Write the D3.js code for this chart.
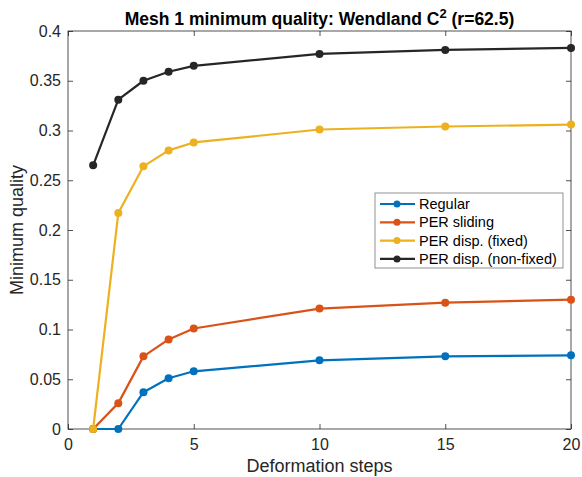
<!DOCTYPE html>
<html>
<head>
<meta charset="utf-8">
<script src="https://cdn.jsdelivr.net/npm/d3@7"></script>
<style>
  body { margin: 0; background: #fff; }
  text { font-family: "Liberation Sans", Arial, Helvetica, sans-serif; fill: #262626; }
</style>
</head>
<body>
<div id="chart"></div>
<script>
// data
var steps = [1, 2, 3, 4, 5, 10, 15, 20];
var regular = [0, 0, 0.037, 0.051, 0.058, 0.069, 0.073, 0.074];
var perSliding = [0, 0.026, 0.073, 0.090, 0.101, 0.121, 0.127, 0.130];
var perDispFixed = [0, 0.217, 0.264, 0.280, 0.288, 0.301, 0.304, 0.306];
var perDispNonFixed = [0.265, 0.331, 0.350, 0.359, 0.365, 0.377, 0.381, 0.383];
var seriesNames = ["Regular", "PER sliding", "PER disp. (fixed)", "PER disp. (non-fixed)"];
var xTicks = [0, 5, 10, 15, 20];
var yTicks = [0, 0.05, 0.1, 0.15, 0.2, 0.25, 0.3, 0.35, 0.4];

var colors = ["#0072BD", "#D95319", "#EDB120", "#262626"];
var allSeries = [regular, perSliding, perDispFixed, perDispNonFixed];

var W = 582, H = 477;
var margin = {top: 31, right: 11, bottom: 48, left: 68},
    width = W - margin.left - margin.right,
    height = H - margin.top - margin.bottom;

var svg = d3.select("#chart").append("svg")
  .attr("width", W).attr("height", H);

var g = svg.append("g")
  .attr("transform", "translate(" + margin.left + "," + margin.top + ")");

var x = d3.scaleLinear().domain([0, 20]).range([0, width]);
var y = d3.scaleLinear().domain([0, 0.4]).range([height, 0]);

var axisColor = "#262626";
var tickLen = 5;

// box
g.append("rect")
  .attr("width", width).attr("height", height)
  .attr("fill", "none").attr("stroke", axisColor).attr("stroke-width", 0.8);

// axes with inward ticks
var xAxis = g.append("g")
  .attr("transform", "translate(0," + height + ")")
  .call(d3.axisBottom(x).tickValues(xTicks).tickSize(-tickLen).tickPadding(10).tickFormat(d3.format("d")));
var xTop = g.append("g")
  .call(d3.axisTop(x).tickValues(xTicks).tickSize(-tickLen).tickFormat(""));
var yAxis = g.append("g")
  .call(d3.axisLeft(y).tickValues(yTicks).tickSize(-tickLen).tickPadding(7).tickFormat(function(d) { return String(+d.toFixed(2)); }));
var yRight = g.append("g")
  .attr("transform", "translate(" + width + ",0)")
  .call(d3.axisRight(y).tickValues(yTicks).tickSize(-tickLen).tickFormat(""));

[xAxis, xTop, yAxis, yRight].forEach(function(a) {
  a.select(".domain").remove();
  a.selectAll("line").attr("stroke", axisColor).attr("stroke-width", 0.8);
  a.selectAll("text").attr("font-size", 16).style("fill", axisColor);
});

// lines + markers
var line = d3.line()
  .x(function(d, i) { return x(steps[i]); })
  .y(function(d) { return y(d); });

allSeries.forEach(function(s, k) {
  g.append("path")
    .datum(s)
    .attr("fill", "none")
    .attr("stroke", colors[k])
    .attr("stroke-width", 2.2)
    .attr("stroke-linejoin", "round")
    .attr("d", line);
  g.selectAll(".m" + k)
    .data(s)
    .enter().append("circle")
    .attr("cx", function(d, i) { return x(steps[i]); })
    .attr("cy", function(d) { return y(d); })
    .attr("r", 4)
    .attr("fill", colors[k]);
});

// title
var title = svg.append("text")
  .attr("x", margin.left + width / 2)
  .attr("y", 25)
  .attr("text-anchor", "middle")
  .attr("font-size", 17.5)
  .attr("font-weight", "bold")
  .style("fill", "#000");
title.append("tspan").text("Mesh 1 minimum quality: Wendland C");
title.append("tspan").attr("dy", -7).attr("font-size", 13).text("2");
title.append("tspan").attr("dy", 7).text(" (r=62.5)");

// axis labels
svg.append("text")
  .attr("x", margin.left + width / 2)
  .attr("y", 472)
  .attr("text-anchor", "middle")
  .attr("font-size", 18)
  .text("Deformation steps");

svg.append("text")
  .attr("transform", "translate(23," + (margin.top + height / 2) + ") rotate(-90)")
  .attr("text-anchor", "middle")
  .attr("font-size", 18)
  .text("Minimum quality");

// legend
var lg = svg.append("g").attr("transform", "translate(375,193)");
lg.append("rect")
  .attr("width", 188).attr("height", 75)
  .attr("fill", "#fff").attr("stroke", "#777").attr("stroke-width", 0.8);
seriesNames.forEach(function(name, k) {
  var yy = 11 + k * 18.3;
  lg.append("line")
    .attr("x1", 5).attr("x2", 40).attr("y1", yy).attr("y2", yy)
    .attr("stroke", colors[k]).attr("stroke-width", 2.2);
  lg.append("circle").attr("cx", 22).attr("cy", yy).attr("r", 3.5).attr("fill", colors[k]);
  lg.append("text")
    .attr("x", 44).attr("y", yy + 5)
    .attr("font-size", 14.5)
    .style("fill", "#000")
    .text(name);
});
</script>
</body>
</html>
